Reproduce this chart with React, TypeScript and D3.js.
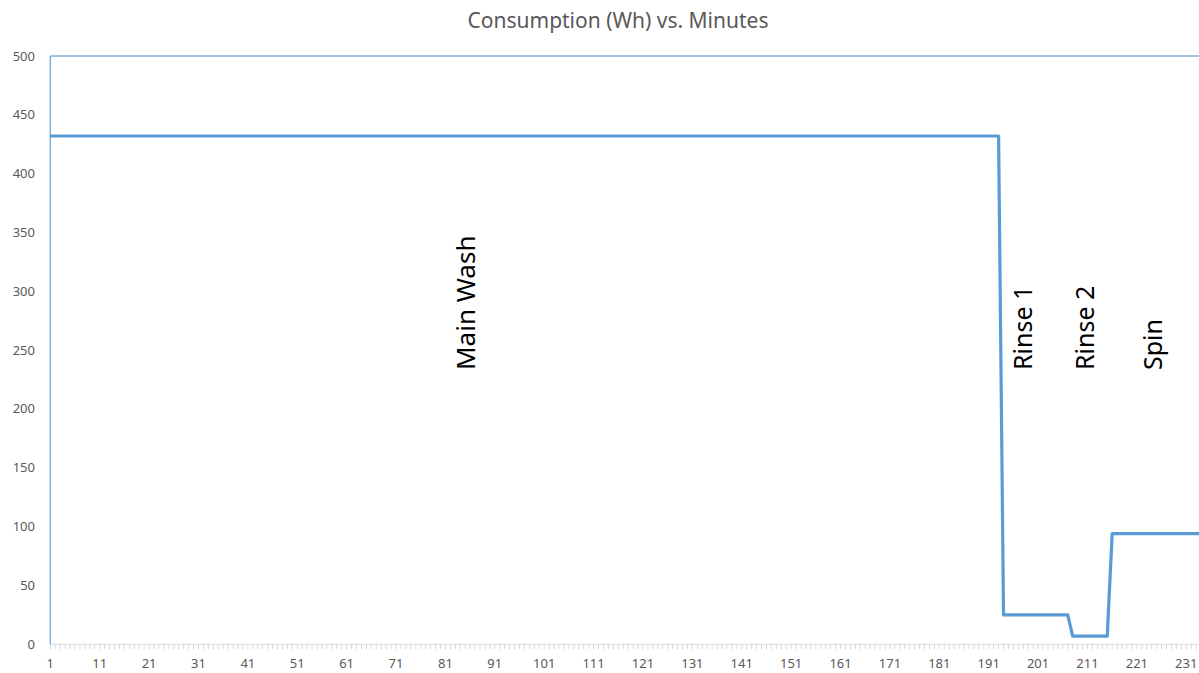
import React from "react";
import * as d3 from "d3";

// Step profile of the wash cycle: vertices of the consumption line
const minutes = [1, 193, 194, 207, 208, 215, 216, 234];
const consumption = [432, 432, 25, 25, 7, 7, 94, 94];

const yTicks = [0, 50, 100, 150, 200, 250, 300, 350, 400, 450, 500];
const firstMinute = 1;
const lastMinute = 234;
const labelEvery = 10;

// Phase names and the minute each rotated label sits at
const phaseNames = ["Main Wash", "Rinse 1", "Rinse 2", "Spin"];
const phaseMinutes = [86.9, 199.7, 212.3, 226];

const W = 1199;
const H = 673;

export default function App() {
  const x = d3.scaleLinear().domain([firstMinute, lastMinute]).range([50.3, 50.3 + 233 * 4.939]);
  const y = d3.scaleLinear().domain([0, 500]).range([644.3, 56]);

  const pts = minutes.map((m, i) => [m, consumption[i]] as [number, number]);
  const line = d3
    .line<[number, number]>()
    .x((d) => x(d[0]))
    .y((d) => y(d[1]));

  const cats = d3.range(firstMinute, lastMinute + 1);
  const labelCats = cats.filter((c) => (c - firstMinute) % labelEvery === 0);

  const font = "'Noto Sans', 'Open Sans', sans-serif";

  return (
    <svg
      width={W}
      height={H}
      style={{ position: "absolute", left: 0, top: 0, background: "#fff" }}
    >
      <defs>
        <clipPath id="plotClip">
          <rect x={0} y={0} width={W} height={H} />
        </clipPath>
      </defs>

      <text
        x={618}
        y={28}
        textAnchor="middle"
        fontFamily={font}
        fontSize={21}
        fill="#595959"
      >
        Consumption (Wh) vs. Minutes
      </text>

      {/* y-axis tick labels */}
      {yTicks.map((t) => (
        <text
          key={t}
          x={35}
          y={y(t) + 4.5}
          textAnchor="end"
          fontFamily={font}
          fontSize={13}
          fill="#595959"
        >
          {t}
        </text>
      ))}

      {/* category axis */}
      <line x1={x(firstMinute)} x2={W} y1={y(0)} y2={y(0)} stroke="#d9d9d9" strokeWidth={1} />
      {cats.map((c) => (
        <line
          key={c}
          x1={x(c)}
          x2={x(c)}
          y1={y(0)}
          y2={y(0) + 5}
          stroke="#d9d9d9"
          strokeWidth={1}
        />
      ))}
      {labelCats.map((c) => (
        <text
          key={c}
          x={x(c)}
          y={668}
          textAnchor="middle"
          fontFamily={font}
          fontSize={13}
          fill="#595959"
        >
          {c}
        </text>
      ))}

      {/* plot frame on the left and top */}
      <line x1={x(firstMinute)} x2={x(firstMinute)} y1={y(0)} y2={y(500)} stroke="#7eb0df" strokeWidth={1.5} />
      <line x1={x(firstMinute)} x2={W} y1={y(500)} y2={y(500)} stroke="#7eb0df" strokeWidth={1.5} />

      <g clipPath="url(#plotClip)">
        <path
          d={line(pts) ?? ""}
          fill="none"
          stroke="#5b9bd5"
          strokeWidth={3.2}
          strokeLinejoin="round"
        />
      </g>

      {/* phase labels */}
      {phaseNames.map((name, i) => (
        <text
          key={name}
          transform={`translate(${x(phaseMinutes[i])},370) rotate(-90)`}
          fontFamily={font}
          fontSize={i === 0 ? 26 : 25}
          fill="#000"
        >
          {name}
        </text>
      ))}
    </svg>
  );
}
